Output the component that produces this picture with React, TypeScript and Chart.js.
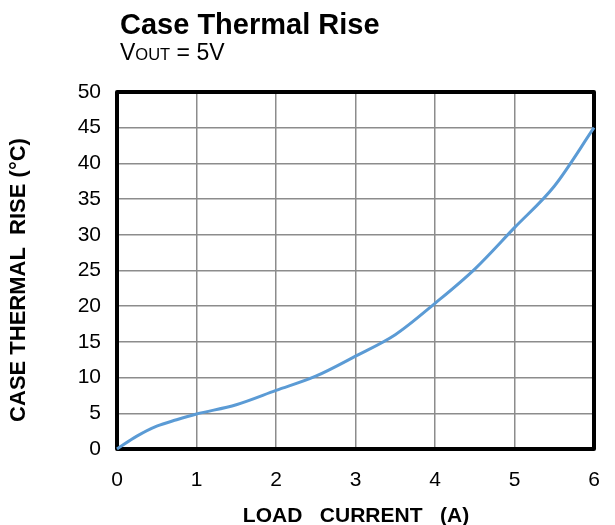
import React, { useEffect, useRef } from "react";
import { Chart, registerables } from "chart.js";

Chart.register(...registerables);

const loadCurrent = [0, 0.25, 0.5, 0.75, 1, 1.5, 2, 2.5, 3, 3.5, 4, 4.5, 5, 5.5, 6];
const thermalRise = [0, 1.8, 3.2, 4.1, 4.9, 6.2, 8.2, 10.2, 13.0, 16.0, 20.4, 25.2, 31.0, 36.8, 45.0];
const xTicks = [0, 1, 2, 3, 4, 5, 6];
const yTicks = [0, 5, 10, 15, 20, 25, 30, 35, 40, 45, 50];

const titleText = "Case Thermal Rise";
const xTitle = "LOAD   CURRENT   (A)";
const yTitle = "CASE THERMAL  RISE (°C)";
const FONT = "'Liberation Sans', Arial, sans-serif";

export default function App() {
  const ref = useRef<HTMLCanvasElement | null>(null);

  useEffect(() => {
    document.body.style.margin = "0";
    const canvas = ref.current;
    if (!canvas) return;

    const textPlugin = {
      id: "textPlugin",
      beforeDatasetsDraw(chart: any) {
        const { ctx, chartArea } = chart;
        ctx.save();
        ctx.strokeStyle = "#000";
        ctx.lineWidth = 4;
        ctx.lineJoin = "round";
        ctx.strokeRect(
          chartArea.left,
          chartArea.top,
          chartArea.right - chartArea.left,
          chartArea.bottom - chartArea.top
        );
        ctx.restore();
      },
      afterDraw(chart: any) {
        const { ctx } = chart;
        ctx.save();
        ctx.fillStyle = "#000";
        ctx.textBaseline = "alphabetic";
        ctx.textAlign = "left";
        ctx.font = `bold 29px ${FONT}`;
        ctx.fillText(titleText, 120, 34);
        // subtitle V_OUT = 5V
        let x = 120;
        ctx.font = `23px ${FONT}`;
        ctx.fillText("V", x, 60);
        x += ctx.measureText("V").width;
        ctx.font = `16.5px ${FONT}`;
        ctx.fillText("OUT", x, 60);
        x += ctx.measureText("OUT").width;
        ctx.font = `23px ${FONT}`;
        ctx.fillText(" = 5V", x, 60);

        // x axis title
        ctx.font = `bold 21px ${FONT}`;
        ctx.textAlign = "center";
        ctx.fillText(xTitle, 356, 522);
        // y axis title
        ctx.font = `bold 22px ${FONT}`;
        ctx.translate(25, 280);
        ctx.rotate(-Math.PI / 2);
        ctx.fillText(yTitle, 0, 0);
        ctx.restore();
      },
    };

    const chart = new Chart(canvas, {
      type: "scatter",
      data: {
        datasets: [
          {
            data: loadCurrent.map((x, i) => ({ x, y: thermalRise[i] })),
            showLine: true,
            borderColor: "#5B9BD5",
            borderWidth: 3,
            pointRadius: 0,
            cubicInterpolationMode: "monotone",
            clip: false,
          } as any,
        ],
      },
      options: {
        responsive: false,
        animation: false,
        events: [],
        layout: { padding: { left: 0, right: 21, top: 92, bottom: 0 } },
        plugins: { legend: { display: false }, tooltip: { enabled: false }, title: { display: false } },
        scales: {
          x: {
            type: "linear",
            min: 0,
            max: 6,
            afterFit: (s: any) => {
              s.height = 76;
              s.paddingLeft = 0;
              s.paddingRight = 0;
            },
            afterBuildTicks: (s: any) => {
              s.ticks = xTicks.map((v) => ({ value: v }));
            },
            grid: { color: "#8c8c8c", lineWidth: 1.5, drawTicks: false },
            border: { display: false },
            ticks: {
              padding: 19,
              color: "#000",
              font: { family: FONT, size: 21 },
            },
          },
          y: {
            type: "linear",
            min: 0,
            max: 50,
            afterFit: (s: any) => {
              s.width = 117;
              s.paddingTop = 0;
              s.paddingBottom = 0;
            },
            afterBuildTicks: (s: any) => {
              s.ticks = yTicks.map((v) => ({ value: v }));
            },
            grid: { color: "#8c8c8c", lineWidth: 1.5, drawTicks: false },
            border: { display: false },
            ticks: {
              padding: 16,
              color: "#000",
              font: { family: FONT, size: 21 },
            },
          },
        },
      },
      plugins: [textPlugin],
    });

    return () => chart.destroy();
  }, []);

  return <canvas ref={ref} width={615} height={525} style={{ display: "block" }} />;
}
